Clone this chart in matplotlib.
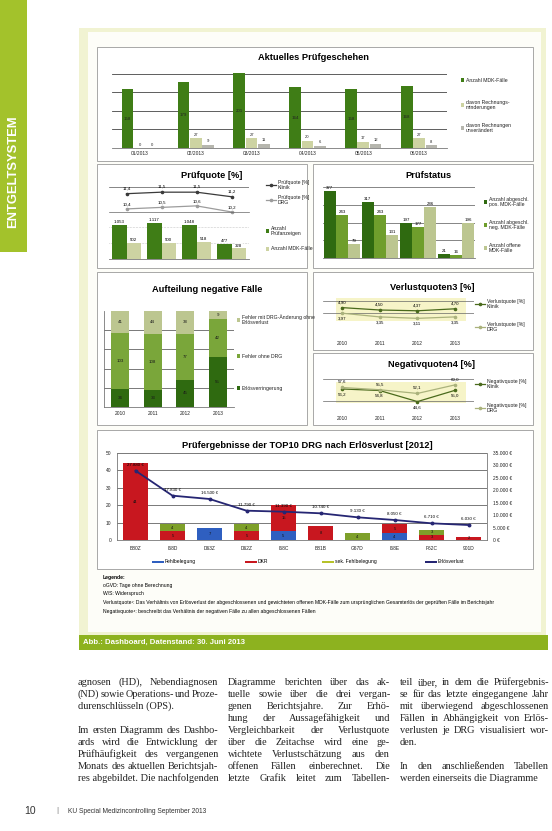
import matplotlib
matplotlib.use('Agg')
import matplotlib.pyplot as plt
from matplotlib.patches import Rectangle
from matplotlib.lines import Line2D
import numpy as np

plt.rcParams['font.family'] = ['Liberation Sans', 'DejaVu Sans']

# ---------------- data ----------------
months = ['01/2013', '02/2013', '03/2013', '04/2013', '05/2013', '06/2013']
mdk_cases_month = [158, 179, 201, 164, 158, 168]
reductions_month = [0, 27, 27, 20, 17, 27]
unchanged_month = [0, 9, 11, 6, 12, 8]
p1_labels = ['Anzahl MDK-Fälle', 'davon Rechnungs-\nminderungen', 'davon Rechnungen\nunverändert']

years = ['2010', '2011', '2012', '2013']
quote_clinic = [11.4, 11.5, 11.5, 11.2]
quote_drg = [10.4, 10.5, 10.6, 10.2]
audit_notices = [1053, 1117, 1048, 477]
audit_cases = [502, 500, 518, 328]
p2_line_labels = ['Prüfquote [%]\nKlinik', 'Prüfquote [%]\nDRG']
p2_bar_labels = ['Anzahl\nPrüfanzeigen', 'Anzahl MDK-Fälle']

status_pos = [377, 317, 197, 21]
status_neg = [243, 243, 177, 16]
status_open = [79, 131, 286, 196]
p3_labels = ['Anzahl abgeschl.\npos. MDK-Fälle', 'Anzahl abgeschl.\nneg. MDK-Fälle', 'Anzahl offene\nMDK-Fälle']

neg_reduction = [34, 33, 45, 55]
neg_no_drg = [103, 108, 77, 42]
neg_drg_no_loss = [41, 44, 38, 9]
p4_labels = ['Fehler mit DRG-Änderung ohne\nErlösverlust', 'Fehler ohne DRG', 'Erlösverringerung']

loss_clinic = [4.90, 4.50, 4.37, 4.70]
loss_drg = [3.97, 3.35, 3.11, 3.35]
p5_labels = ['Verlustquote [%]\nKlinik', 'Verlustquote [%]\nDRG']

negq_clinic = [56.2, 54.8, 44.6, 55.0]
negq_drg = [57.6, 55.5, 52.1, 60.0]
p6_labels = ['Negativquote [%]\nKlinik', 'Negativquote [%]\nDRG']

drgs = ['B80Z', 'I68D', 'D63Z', 'D62Z', 'I68C', 'B81B', 'G67D', 'I68E', 'F62C', '901D']
cnt_fehlbelegung = [0, 0, 7, 0, 5, 0, 0, 4, 0, 0]
cnt_dkr = [44, 5, 0, 5, 15, 8, 0, 5, 3, 2]
cnt_sek = [0, 4, 0, 4, 0, 0, 4, 0, 3, 0]
loss_eur = [27880, 17830, 16500, 11790, 11390, 10740, 9130, 8050, 6710, 6030]
p7_labels = ['Fehlbelegung', 'DKR', 'sek. Fehlbelegung', 'Erlösverlust']
euro_ticks = [0, 5000, 10000, 15000, 20000, 25000, 30000, 35000]
count_ticks = [0, 10, 20, 30, 40, 50]

legend_lines = ['Legende:',
                'oGVD: Tage ohne Berechnung',
                'W/S: Widerspruch',
                'Verlustquote³: Das Verhältnis von Erlösverlust der abgeschlossenen und gewichteten offenen MDK-Fälle zum ursprünglichen Gesamterlös der geprüften Fälle im Berichtsjahr',
                'Negativquote⁴: beschreibt das Verhältnis der negativen Fälle zu allen abgeschlossenen Fällen']

col1 = ['agnosen (HD), Nebendiagnosen', '(ND) sowie Operations- und Proze-', 'durenschlüsseln (OPS).', '',
        'Im ersten Diagramm des Dashbo-', 'ards wird die Entwicklung der', 'Prüfhäufigkeit des vergangenen',
        'Monats des aktuellen Berichtsjah-', 'res abgebildet. Die nachfolgenden']
col2 = ['Diagramme berichten über das ak-', 'tuelle sowie über die drei vergan-', 'genen Berichtsjahre. Zur Erhö-',
        'hung der Aussagefähigkeit und', 'Vergleichbarkeit der Verlustquote', 'über die Zeitachse wird eine ge-',
        'wichtete Verlustschätzung aus den', 'offenen Fällen einberechnet. Die', 'letzte Grafik leitet zum Tabellen-']
col3 = ['teil über, in dem die Prüfergebnis-', 'se für das letzte eingegangene Jahr', 'mit überwiegend abgeschlossenen',
        'Fällen in Abhängigkeit von Erlös-', 'verlusten je DRG visualisiert wor-', 'den.', '',
        'In den anschließenden Tabellen', 'werden einerseits die Diagramme']

# ---------------- helpers ----------------
W, H = 552, 831
fig = plt.figure(figsize=(W / 100, H / 100), dpi=100)
fig.patch.set_facecolor('white')
renderer = fig.canvas.get_renderer()


def fx(x):
    return x / W


def fy(y):
    return 1 - y / H


def add_axes(x0, y0, x1, y1):
    ax = fig.add_axes([x0 / W, 1 - y1 / H, (x1 - x0) / W, (y1 - y0) / H])
    ax.patch.set_alpha(0)
    return ax


def box(x0, y0, x1, y1, fc, ec='none', lw=0.5, z=-5, alpha=1):
    fig.patches.append(Rectangle((fx(x0), fy(y1)), (x1 - x0) / W, (y1 - y0) / H,
                                 transform=fig.transFigure, facecolor=fc, edgecolor=ec,
                                 linewidth=lw, zorder=z, alpha=alpha))


def txt(x, y, s, size=4, **kw):
    kw.setdefault('va', 'center')
    return fig.text(fx(x), fy(y), s, fontsize=size, **kw)


def leg_square(x, y, color, label, size=3.7):
    box(x, y - 1.8, x + 3.4, y + 1.6, color, z=5)
    txt(x + 5, y, label, size, ha='left', linespacing=1.05, color='#222')


def leg_line(x, y, color, label, size=3.7):
    fig.add_artist(Line2D([fx(x), fx(x + 5), fx(x + 10)], [fy(y)] * 3, color=color, lw=0.9,
                          marker='o', markersize=1.6, markevery=[1], transform=fig.transFigure))
    txt(x + 12, y, label, size, ha='left', linespacing=1.05, color='#222')


def clean(ax, bottom=True, left=False):
    for s in ['top', 'right']:
        ax.spines[s].set_visible(False)
    ax.spines['left'].set_visible(left)
    ax.spines['bottom'].set_visible(bottom)
    for s in ['left', 'bottom']:
        ax.spines[s].set_color('#777')
        ax.spines[s].set_linewidth(0.6)
    ax.tick_params(axis='both', length=0, labelsize=3.5, pad=1.8, colors='#222')


C_DARK = '#3f7d16'
C_MID = '#6f9e2c'
C_LIGHT = '#bcc690'
C_OLIVE = '#cdd3a2'
C_GREY = '#b6b6ae'
C_PANEL_EC = '#9a9a9a'
TITLE = 6.7

# ---------------- page furniture ----------------
box(0, 0, 27, 252, '#a3c22b')
txt(13.5, 172, 'ENTGELTSYSTEM', 9.4, rotation=90, ha='center', color='white', fontweight='bold')

box(79, 28, 546, 636, '#f1f3d2', z=-9)
box(88, 32, 541, 632, '#fdfdf8', z=-8)
box(79, 635, 548, 650, '#8db21f', z=-7)
txt(83, 642.5, 'Abb.: Dashboard, Datenstand: 30. Juni 2013', 5.6, ha='left', color='white', fontweight='bold')

panels = [(97, 47, 533, 161), (97, 164, 307, 268), (313, 164, 533, 268), (97, 272, 307, 425),
          (313, 272, 533, 350), (313, 353, 533, 425), (97, 430, 533, 569)]
for p in panels:
    box(*p, fc='white', ec=C_PANEL_EC, lw=0.6, z=-6)

# ---------------- chart 1 ----------------
txt(314, 57.5, 'Aktuelles Prüfgeschehen', TITLE, ha='center', fontweight='bold')
ax1 = add_axes(112, 72, 447, 148)
x = np.arange(len(months))
ax1.bar(x - 0.22, mdk_cases_month, 0.21, color=C_DARK, zorder=3)
ax1.bar(x, reductions_month, 0.21, color=C_OLIVE, zorder=3)
ax1.bar(x + 0.22, unchanged_month, 0.21, color=C_GREY, zorder=3)
ax1.set_xlim(-0.5, len(months) - 0.5)
ax1.set_ylim(0, 205)
ax1.set_yticks([50, 100, 150, 200])
ax1.yaxis.grid(True, color='#444', lw=0.6)
ax1.set_axisbelow(True)
clean(ax1)
ax1.tick_params(axis='y', labelleft=False)
ax1.set_xticks(x, months)
ax1.tick_params(axis='x', pad=2.5)
for xi, v in zip(x, mdk_cases_month):
    ax1.text(xi - 0.22, v / 2, str(v), ha='center', va='center', fontsize=3.2, color='#222', zorder=4)
for off, vals in ((0, reductions_month), (0.22, unchanged_month)):
    for xi, v in zip(x, vals):
        ax1.text(xi + off, v + 4, str(v), ha='center', va='bottom', fontsize=3.0, color='#222', zorder=4)
leg_square(461, 80, C_DARK, p1_labels[0])
leg_square(461, 105, C_OLIVE, p1_labels[1])
leg_square(461, 128, C_GREY, p1_labels[2])

# ---------------- chart 2 ----------------
txt(212, 175, 'Prüfquote [%]', TITLE, ha='center', fontweight='bold')
ax2a = add_axes(109, 180, 249, 215)
x4 = np.arange(len(years))
ax2a.plot(x4, quote_clinic, color='#3a3a3a', lw=0.9, marker='o', ms=1.6)
ax2a.plot(x4, quote_drg, color='#9c9c9c', lw=0.9, marker='o', ms=1.6)
ax2a.set_xlim(-0.5, 3.5)
ax2a.set_ylim(10.0, 12.3)
for s in ax2a.spines.values():
    s.set_visible(False)
ax2a.set_xticks([])
ax2a.set_yticks([])
ax2a.axhline(11.85, color='#555', lw=0.5)
for xi, v in zip(x4, quote_clinic):
    ax2a.annotate(f'{v:.1f}'.replace('.', ','), (xi, v), xytext=(0, 2.5), textcoords='offset points',
                  ha='center', va='bottom', fontsize=3.2)
for xi, v in zip(x4, quote_drg):
    ax2a.annotate(f'{v:.1f}'.replace('.', ','), (xi, v), xytext=(0, 2.0), textcoords='offset points',
                  ha='center', va='bottom', fontsize=3.2,
                  bbox=dict(boxstyle='square,pad=0.15', fc='white', ec='none'))
ax2b = add_axes(109, 212, 249, 259)
ax2b.bar(x4 - 0.21, audit_notices, 0.42, color=C_DARK, zorder=3)
ax2b.bar(x4 + 0.21, audit_cases, 0.42, color=C_OLIVE, zorder=3)
ax2b.set_xlim(-0.5, 3.5)
ax2b.set_ylim(0, 1450)
ax2b.set_yticks([500, 1000])
ax2b.yaxis.grid(True, color='#999', lw=0.4, ls=':')
ax2b.set_axisbelow(True)
clean(ax2b)
ax2b.set_xticks([])
ax2b.tick_params(axis='y', labelleft=False)
ax2b.spines['top'].set_visible(True)
ax2b.spines['top'].set_color('#666')
ax2b.spines['top'].set_linewidth(0.5)
for xi, v in zip(x4, audit_notices):
    ax2b.text(xi - 0.21, v + 25, f'{v:,}'.replace(',', '.'), ha='center', va='bottom', fontsize=3.2,
              bbox=dict(boxstyle='square,pad=0.1', fc='white', ec='none', alpha=0.8))
for xi, v in zip(x4, audit_cases):
    ax2b.text(xi + 0.21, v + 25, str(v), ha='center', va='bottom', fontsize=3.2,
              bbox=dict(boxstyle='square,pad=0.1', fc='white', ec='none', alpha=0.8))
leg_line(266, 185, '#3a3a3a', p2_line_labels[0])
leg_line(266, 200, '#9c9c9c', p2_line_labels[1])
leg_square(266, 231, C_DARK, p2_bar_labels[0])
leg_square(266, 249, C_OLIVE, p2_bar_labels[1])

# ---------------- chart 3 ----------------
txt(428, 176, 'Prüfstatus', TITLE, ha='center', fontweight='bold')
ax3 = add_axes(323, 187, 475, 258)
ax3.bar(x4 - 0.32, status_pos, 0.31, color='#2f6a10', zorder=3)
ax3.bar(x4, status_neg, 0.31, color=C_MID, zorder=3)
ax3.bar(x4 + 0.32, status_open, 0.31, color=C_LIGHT, zorder=3)
ax3.set_xlim(-0.5, 3.5)
ax3.set_ylim(0, 400)
ax3.set_yticks([100, 200, 300, 400])
ax3.yaxis.grid(True, color='#555', lw=0.5)
ax3.set_axisbelow(True)
clean(ax3)
ax3.set_xticks([])
ax3.tick_params(axis='y', labelleft=False)
for off, vals in ((-0.32, status_pos), (0, status_neg), (0.32, status_open)):
    for xi, v in zip(x4, vals):
        ax3.text(xi + off, v + 6, str(v), ha='center', va='bottom', fontsize=3.2, zorder=4)
leg_square(484, 202, '#2f6a10', p3_labels[0])
leg_square(484, 225, C_MID, p3_labels[1])
leg_square(484, 248, C_LIGHT, p3_labels[2])

# ---------------- chart 4 ----------------
txt(207, 290, 'Aufteilung negative Fälle', TITLE, ha='center', fontweight='bold')
ax4 = add_axes(104, 311, 234, 407)
tot = np.array(neg_reduction) + np.array(neg_no_drg) + np.array(neg_drg_no_loss)
s1 = np.array(neg_reduction) / tot
s2 = np.array(neg_no_drg) / tot
s3 = np.array(neg_drg_no_loss) / tot
ax4.bar(x4, s1, 0.56, color='#2f6a10', zorder=3)
ax4.bar(x4, s2, 0.56, bottom=s1, color='#7aa63a', zorder=3)
ax4.bar(x4, s3, 0.56, bottom=s1 + s2, color=C_LIGHT, zorder=3)
ax4.set_xlim(-0.5, 3.5)
ax4.set_ylim(0, 1)
ax4.set_yticks([0.2, 0.4, 0.6, 0.8])
ax4.yaxis.grid(True, color='#444', lw=0.5)
ax4.set_axisbelow(True)
clean(ax4, left=True)
ax4.tick_params(axis='y', labelleft=False)
ax4.set_xticks(x4, years)
ax4.tick_params(axis='x', pad=3)
for i in range(4):
    for bot, frac, v in ((0, s1[i], neg_reduction[i]), (s1[i], s2[i], neg_no_drg[i]),
                         (s1[i] + s2[i], s3[i], neg_drg_no_loss[i])):
        ax4.text(i, bot + frac / 2, str(v), ha='center', va='center', fontsize=3.2, color='#1a1a1a', zorder=4)
leg_square(237, 320, C_LIGHT, p4_labels[0])
leg_square(237, 356, '#7aa63a', p4_labels[1])
leg_square(237, 388, '#2f6a10', p4_labels[2])

# ---------------- chart 5 ----------------
box(336, 298, 466, 321, '#f6f4c8', z=-4)
txt(432, 287, 'Verlustquoten3 [%]', TITLE, ha='center', fontweight='bold')
ax5 = add_axes(323, 298, 474, 337)
ax5.plot(x4, loss_clinic, color='#4a6a1c', lw=0.9, marker='o', ms=1.6, zorder=3)
ax5.plot(x4, loss_drg, color='#aab27c', lw=0.9, marker='o', ms=1.6, zorder=3)
ax5.set_xlim(-0.5, 3.5)
ax5.set_ylim(0, 6.5)
ax5.set_yticks([4, 6])
ax5.yaxis.grid(True, color='#666', lw=0.5)
clean(ax5, bottom=False)
ax5.tick_params(axis='y', labelleft=False)
ax5.set_xticks(x4, years)
ax5.tick_params(axis='x', pad=3)
for xi, v in zip(x4, loss_clinic):
    ax5.annotate(f'{v:.2f}'.replace('.', ','), (xi, v), xytext=(0, 2.5), textcoords='offset points',
                 ha='center', va='bottom', fontsize=3.2)
for xi, v in zip(x4, loss_drg):
    ax5.annotate(f'{v:.2f}'.replace('.', ','), (xi, v), xytext=(0, -2.5), textcoords='offset points',
                 ha='center', va='top', fontsize=3.2)
leg_line(475, 304, '#4a6a1c', p5_labels[0])
leg_line(475, 327, '#aab27c', p5_labels[1])

# ---------------- chart 6 ----------------
box(336, 382, 466, 403, '#f6f4c8', z=-4)
txt(432, 364, 'Negativquoten4 [%]', TITLE, ha='center', fontweight='bold')
ax6 = add_axes(323, 374, 474, 412)
ax6.plot(x4, negq_clinic, color='#4a6a1c', lw=0.9, marker='o', ms=1.6, zorder=3)
ax6.plot(x4, negq_drg, color='#aab27c', lw=0.9, marker='o', ms=1.6, zorder=3)
ax6.set_xlim(-0.5, 3.5)
ax6.set_ylim(35, 70)
ax6.set_yticks([45, 65])
ax6.yaxis.grid(True, color='#666', lw=0.5)
clean(ax6, bottom=False)
ax6.tick_params(axis='y', labelleft=False)
ax6.set_xticks(x4, years)
ax6.tick_params(axis='x', pad=3)
for xi, v in zip(x4, negq_drg):
    ax6.annotate(f'{v:.1f}'.replace('.', ','), (xi, v), xytext=(0, 2.5), textcoords='offset points',
                 ha='center', va='bottom', fontsize=3.2)
for xi, v in zip(x4, negq_clinic):
    ax6.annotate(f'{v:.1f}'.replace('.', ','), (xi, v), xytext=(0, -2.5), textcoords='offset points',
                 ha='center', va='top', fontsize=3.2)
leg_line(475, 384, '#4a6a1c', p6_labels[0])
leg_line(475, 408, '#aab27c', p6_labels[1])

# ---------------- chart 7 ----------------
txt(307, 445, 'Prüfergebnisse der TOP10 DRG nach Erlösverlust [2012]', TITLE, ha='center', fontweight='bold')
ax7 = add_axes(117, 453, 487, 540)
x10 = np.arange(len(drgs))
c_fb = np.array(cnt_fehlbelegung)
c_dkr = np.array(cnt_dkr)
c_sek = np.array(cnt_sek)
ax7.bar(x10, c_fb, 0.68, color='#2f5fc0', zorder=3)
ax7.bar(x10, c_dkr, 0.68, bottom=c_fb, color='#c8171f', zorder=3)
ax7.bar(x10, c_sek, 0.68, bottom=c_fb + c_dkr, color='#7ea02a', zorder=3)
ax7.set_xlim(-0.5, len(drgs) - 0.5)
ax7.set_ylim(0, 50)
ax7.set_yticks(count_ticks)
ax7.yaxis.grid(True, color='#444', lw=0.5)
ax7.set_axisbelow(True)
clean(ax7, left=True)
ax7.set_xticks(x10, drgs)
ax7.tick_params(axis='x', pad=4)
ax7.tick_params(axis='y', pad=4)
for i in range(len(drgs)):
    bot = 0
    for v in (c_fb[i], c_dkr[i], c_sek[i]):
        if v > 0:
            ax7.text(i, bot + v / 2, str(v), ha='center', va='center', fontsize=3.0, color='#111', zorder=4)
        bot += v
ax7r = ax7.twinx()
ax7r.patch.set_alpha(0)
ax7r.plot(x10, loss_eur, color='#262673', lw=1.3, marker='o', ms=1.8, zorder=5)
ax7r.set_ylim(0, 35000)
ax7r.set_yticks(euro_ticks, [f'{v:,} €'.replace(',', '.') for v in euro_ticks])
for s in ['top', 'left', 'bottom']:
    ax7r.spines[s].set_visible(False)
ax7r.spines['right'].set_color('#777')
ax7r.spines['right'].set_linewidth(0.6)
ax7r.tick_params(axis='y', length=0, labelsize=3.5, pad=4, colors='#222')
for xi, v in zip(x10, loss_eur):
    ax7r.annotate(f'{v:,} €'.replace(',', '.'), (xi, v), xytext=(0, 3), textcoords='offset points',
                  ha='center', va='bottom', fontsize=3.2, zorder=6)
leg7 = [('#2f5fc0', 152), ('#c8171f', 245), ('#b6c22a', 322), ('#262673', 425)]
for (col, lx), lab in zip(leg7, p7_labels):
    box(lx, 560.5, lx + 12, 563, col, z=5)
    txt(lx + 13, 561.5, lab, 3.6, ha='left')

for i, line in enumerate(legend_lines):
    txt(103, 577 + i * 8.5, line, 3.6, ha='left', fontweight='bold' if i == 0 else 'normal')

# ---------------- body text ----------------
SERIF = ['Liberation Serif', 'DejaVu Serif']


def justify(x0, x1, y, line, size, last):
    words = line.split(' ')
    if last or len(words) == 1:
        fig.text(fx(x0), fy(y), line, fontsize=size, family=SERIF, va='baseline', color='#222')
        return
    objs, widths = [], []
    for w in words:
        t = fig.text(0, 0, w, fontsize=size, family=SERIF, va='baseline', color='#222')
        widths.append(t.get_window_extent(renderer).width)
        objs.append(t)
    gap = (x1 - x0 - sum(widths)) / (len(words) - 1)
    xx = x0
    for t, wd in zip(objs, widths):
        t.set_position((fx(xx), fy(y)))
        xx += wd + gap


def column(lines, x0, x1):
    for i, line in enumerate(lines):
        if not line:
            continue
        nxt = lines[i + 1] if i + 1 < len(lines) else None
        last = (nxt == '' or nxt is None) and not line.endswith('-')
        if line in ('den.', 'durenschlüsseln (OPS).'):
            last = True
        justify(x0, x1, 685 + i * 12, line, 7.4, last)


column(col1, 78, 218)
column(col2, 228, 390)
column(col3, 400, 549)

txt(24, 811, '10', 7.5, ha='left', color='#333')
txt(56, 811, '|', 6, ha='left', color='#777')
txt(68, 811.5, 'KU Special Medizincontrolling September 2013', 4.8, ha='left', color='#333')

fig.savefig('out.png', dpi=100)
